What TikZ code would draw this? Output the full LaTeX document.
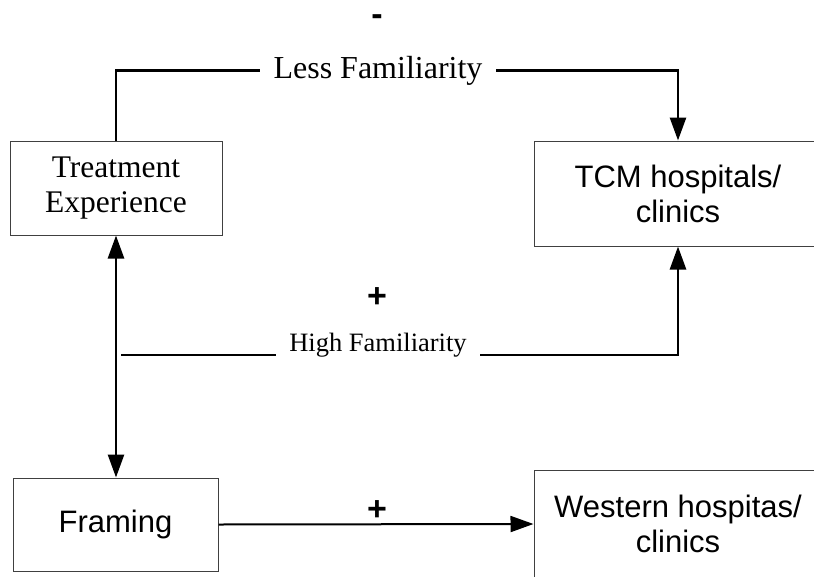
\documentclass[tikz,border=0pt]{standalone}
\usepackage{fontspec}
\setmainfont{Liberation Serif}
\setsansfont{Liberation Sans}
\usetikzlibrary{arrows.meta}

\begin{document}
\begin{tikzpicture}[x=1pt, y=-1pt,
		>={Triangle[length=23pt, width=16pt]},
		factorbox/.style={draw=black!75, line width=1pt, align=center, inner sep=0pt},
		serifbox/.style={factorbox, font=\fontsize{31.5}{35}\selectfont},
		sansbox/.style={factorbox, font=\sffamily\fontsize{31}{35}\selectfont},
		link/.style={line width=2.7pt},
		sign/.style={anchor=base, inner sep=0pt, font=\sffamily\bfseries\fontsize{34}{36}\selectfont}
	]
	\useasboundingbox (0,0) rectangle (814,576);
	
	%factors
	\node[serifbox, minimum width=212pt, minimum height=94pt] (treat) at (116,188) {Treatment\\Experience};
	\node[sansbox, minimum width=288pt, minimum height=105pt] (tcm) at (678,193.5) {TCM hospitals/\\clinics};
	\node[sansbox, minimum width=205pt, minimum height=93pt] (fram) at (115.5,524.5) {Framing};
	\node[sansbox, minimum width=288pt, minimum height=108pt] (west) at (678,524) {Western hospitas/\\clinics};
	
	%less familiarity
	\draw[link, ->] (treat.north) --++(0,-70) -| (tcm.north);
	\node[fill=white, inner xsep=14pt, font=\fontsize{32}{35}\selectfont] (less) at (378,71) {Less Familiarity};
	
	%high familiarity
	\coordinate (hstart) at (121,355);
	\draw[link, ->] (hstart) -| (tcm.south);
	\node[fill=white, inner xsep=13pt, anchor=base, font=\fontsize{26.5}{30}\selectfont] (high) at (378,351) {High Familiarity};
	
	%treatment experience / framing
	\draw[link, <->] (treat.south) -- (treat.south |- fram.north);
	\draw[line width=2pt, ->] (fram.east) -- (west.west);
	
	%signs
	\node[sign] (minus) at (377,25) {-};
	\node[sign] (plushigh) at (377,307) {+};
	\node[sign] (plusfram) at (377,520) {+};
\end{tikzpicture}
\end{document}
